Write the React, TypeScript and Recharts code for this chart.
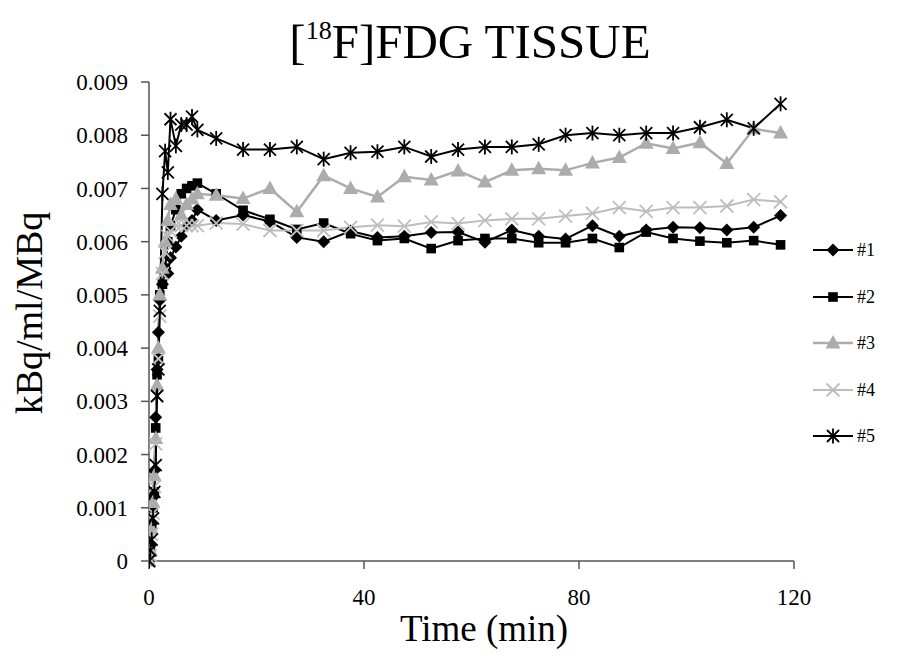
import React from 'react';
import { LineChart, Line, XAxis, YAxis } from 'recharts';

const times = [0, 0.25, 0.5, 0.75, 1, 1.25, 1.5, 1.75, 2, 2.5, 3, 3.5, 4, 5, 6, 7, 8, 9,
  12.5, 17.5, 22.5, 27.5, 32.5, 37.5, 42.5, 47.5, 52.5, 57.5, 62.5, 67.5, 72.5, 77.5, 82.5, 87.5, 92.5, 97.5, 102.5, 107.5, 112.5, 117.5];

const series1 = [0, 0.0003, 0.0007, 0.0012, 0.0017, 0.0027, 0.0036, 0.0043, 0.0049, 0.0052, 0.0055, 0.0054, 0.0057, 0.0059, 0.0061, 0.0063, 0.0064, 0.0066,
  0.0064, 0.0065, 0.00638, 0.00608, 0.0060, 0.0062, 0.00608, 0.0061, 0.00617, 0.00618, 0.00599, 0.00622, 0.0061, 0.00605, 0.0063, 0.0061, 0.00622, 0.00627, 0.00626, 0.00622, 0.00627, 0.00649];

const series2 = [0, 0.0002, 0.0006, 0.0010, 0.0013, 0.0025, 0.0035, 0.0038, 0.0050, 0.0052, 0.0055, 0.0060, 0.0063, 0.0066, 0.0069, 0.0070, 0.00705, 0.0071,
  0.0069, 0.00659, 0.00642, 0.00623, 0.00635, 0.00615, 0.00602, 0.00606, 0.00587, 0.00602, 0.00606, 0.00606, 0.00598, 0.00598, 0.00606, 0.00589, 0.00618, 0.00606, 0.00601, 0.00598, 0.00602, 0.00594];

const series3 = [0, 0.0002, 0.0006, 0.0011, 0.0016, 0.0023, 0.0033, 0.0040, 0.0050, 0.0055, 0.0060, 0.0064, 0.0067, 0.0068, 0.0065, 0.0067, 0.0068, 0.0069,
  0.00687, 0.00681, 0.0070, 0.00656, 0.00724, 0.0070, 0.00684, 0.00722, 0.00716, 0.00733, 0.00712, 0.00734, 0.00737, 0.00734, 0.00748, 0.00758, 0.00785, 0.00775, 0.00786, 0.00747, 0.00812, 0.00804];

const series4 = [0, 0.0001, 0.0005, 0.0009, 0.0014, 0.0022, 0.0031, 0.0038, 0.0046, 0.0054, 0.0058, 0.0061, 0.0062, 0.0063, 0.0063, 0.0063, 0.0063, 0.0063,
  0.00635, 0.00633, 0.00621, 0.00621, 0.00621, 0.00627, 0.00631, 0.00629, 0.00637, 0.00634, 0.0064, 0.00643, 0.00643, 0.00648, 0.00653, 0.00664, 0.00657, 0.00664, 0.00664, 0.00667, 0.00679, 0.00675];

const series5 = [0, 0.0002, 0.0004, 0.0008, 0.0013, 0.0018, 0.0031, 0.0036, 0.0047, 0.0069, 0.0077, 0.0073, 0.0083, 0.0078, 0.0082, 0.0082, 0.00835, 0.0081,
  0.00794, 0.00773, 0.00773, 0.00778, 0.00755, 0.00767, 0.00769, 0.00778, 0.0076, 0.00773, 0.00778, 0.00778, 0.00783, 0.0080, 0.00804, 0.0080, 0.00804, 0.00804, 0.00815, 0.00829, 0.00813, 0.00859];

const seriesNames = ['#1', '#2', '#3', '#4', '#5'];
const xTicks = [0, 40, 80, 120];
const yTicks = [0, 0.001, 0.002, 0.003, 0.004, 0.005, 0.006, 0.007, 0.008, 0.009];

const FONT = '"Liberation Serif", "Times New Roman", serif';

type Kind = 'diamond' | 'square' | 'triangle' | 'cross' | 'star';

const seriesStyles: { kind: Kind; color: string; width: number }[] = [
  { kind: 'diamond', color: '#000000', width: 2 },
  { kind: 'square', color: '#000000', width: 2 },
  { kind: 'triangle', color: '#acacac', width: 2.5 },
  { kind: 'cross', color: '#bdbdbd', width: 2 },
  { kind: 'star', color: '#000000', width: 2 },
];

const Marker = ({ kind, cx, cy, color }: { kind: Kind; cx: number; cy: number; color: string }) => {
  if (kind === 'diamond') {
    return <polygon points={`${cx},${cy - 6.5} ${cx + 6.5},${cy} ${cx},${cy + 6.5} ${cx - 6.5},${cy}`} fill={color} />;
  }
  if (kind === 'square') {
    return <rect x={cx - 4.8} y={cy - 4.8} width={9.6} height={9.6} fill={color} />;
  }
  if (kind === 'triangle') {
    return <polygon points={`${cx},${cy - 8} ${cx + 7.5},${cy + 5.5} ${cx - 7.5},${cy + 5.5}`} fill={color} />;
  }
  if (kind === 'cross') {
    return (
      <g stroke={color} strokeWidth={1.8}>
        <line x1={cx - 6.5} y1={cy - 6.5} x2={cx + 6.5} y2={cy + 6.5} />
        <line x1={cx - 6.5} y1={cy + 6.5} x2={cx + 6.5} y2={cy - 6.5} />
      </g>
    );
  }
  return (
    <g stroke={color} strokeWidth={1.8}>
      <line x1={cx - 6} y1={cy - 6} x2={cx + 6} y2={cy + 6} />
      <line x1={cx - 6} y1={cy + 6} x2={cx + 6} y2={cy - 6} />
      <line x1={cx} y1={cy - 7.5} x2={cx} y2={cy + 7.5} />
    </g>
  );
};

const makeDot = (kind: Kind, color: string) => (props: any) => {
  const { cx, cy, index } = props;
  if (cx == null || cy == null) return <g key={`e-${kind}-${index}`} />;
  return (
    <g key={`${kind}-${index}`}>
      <Marker kind={kind} cx={cx} cy={cy} color={color} />
    </g>
  );
};

const allSeries = [series1, series2, series3, series4, series5];

export default function App() {
  const datasets = allSeries.map((s) => times.map((t, i) => ({ t, v: s[i] })));
  const legendY = [250, 297, 343, 390, 436];
  return (
    <div style={{ position: 'absolute', left: 0, top: 0, width: 917, height: 666, background: '#fff', overflow: 'hidden' }}>
      <LineChart width={917} height={666} margin={{ top: 82, right: 123, bottom: 0, left: 0 }}>
        <XAxis
          dataKey="t"
          type="number"
          domain={[0, 120]}
          ticks={xTicks}
          allowDataOverflow
          height={105}
          tickSize={8}
          tickMargin={20}
          stroke="#555"
          strokeWidth={1.5}
          tick={{ fontSize: 23, fill: '#000', fontFamily: FONT }}
        />
        <YAxis
          type="number"
          domain={[0, 0.009]}
          ticks={yTicks}
          width={149}
          tickSize={8}
          tickMargin={13}
          stroke="#555"
          strokeWidth={1.5}
          tickFormatter={(v: number) => (v === 0 ? '0' : v.toFixed(3))}
          tick={{ fontSize: 23, fill: '#000', fontFamily: FONT }}
        />
        {datasets.map((d, i) => (
          <Line
            key={seriesNames[i]}
            data={d}
            dataKey="v"
            name={seriesNames[i]}
            type="linear"
            stroke={seriesStyles[i].color}
            strokeWidth={seriesStyles[i].width}
            dot={makeDot(seriesStyles[i].kind, seriesStyles[i].color)}
            activeDot={false}
            isAnimationActive={false}
          />
        ))}
      </LineChart>
      <svg width={917} height={666} style={{ position: 'absolute', left: 0, top: 0, pointerEvents: 'none' }}>
        <text x={470} y={58} textAnchor="middle" fontFamily={FONT} fontSize={49} fill="#000">
          [<tspan fontSize={26} dy={-19}>18</tspan><tspan dy={19}>F]FDG TISSUE</tspan>
        </text>
        <text
          x={0}
          y={0}
          transform="translate(42, 313) rotate(-90)"
          textAnchor="middle"
          fontFamily={FONT}
          fontSize={38}
          fill="#000"
        >
          kBq/ml/MBq
        </text>
        <text x={484} y={641} textAnchor="middle" fontFamily={FONT} fontSize={37} fill="#000">
          Time (min)
        </text>
        {seriesNames.map((n, i) => (
          <g key={n}>
            <line x1={813} x2={853} y1={legendY[i]} y2={legendY[i]} stroke={seriesStyles[i].color} strokeWidth={seriesStyles[i].width} />
            <Marker kind={seriesStyles[i].kind} cx={833} cy={legendY[i]} color={seriesStyles[i].color} />
            <text x={857} y={legendY[i] + 6} fontFamily={FONT} fontSize={18} fill="#000">
              {n}
            </text>
          </g>
        ))}
      </svg>
    </div>
  );
}
